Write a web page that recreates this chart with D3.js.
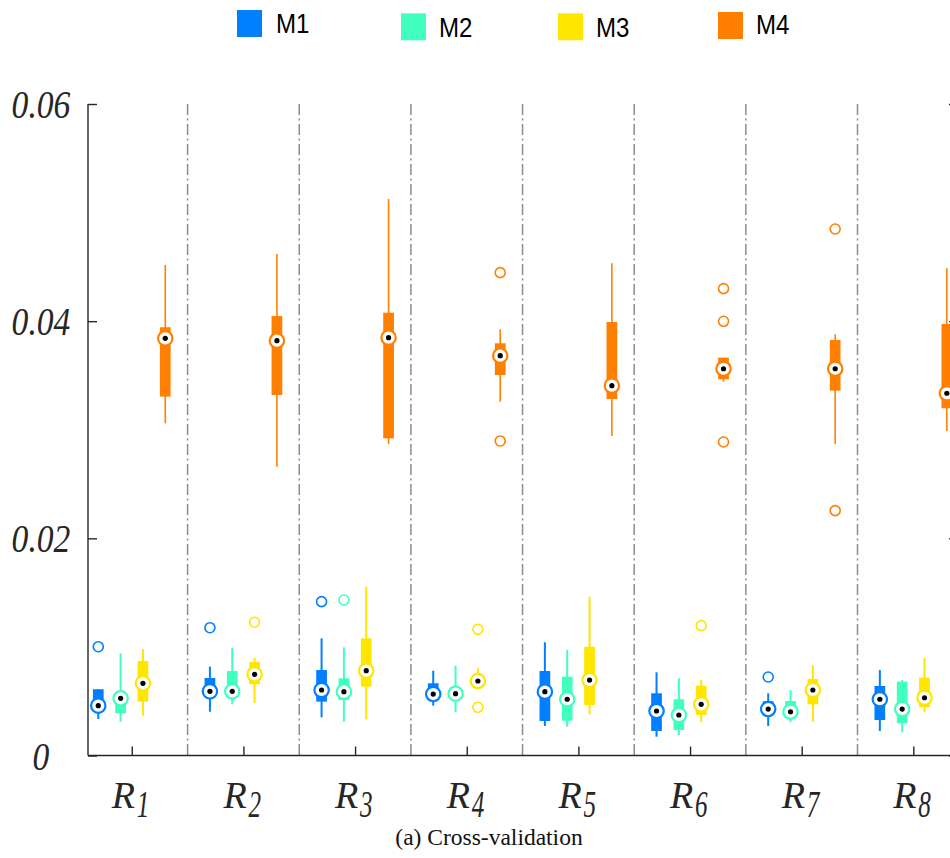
<!DOCTYPE html>
<html>
<head>
<meta charset="utf-8">
<script src="https://cdn.jsdelivr.net/npm/d3@7"></script>
<style>
  html, body { margin: 0; padding: 0; background: #fff; }
  svg { display: block; }
</style>
</head>
<body>
<svg id="chart" width="950" height="858"></svg>
<script>
// ---------- DATA ----------
const categories = ["1", "2", "3", "4", "5", "6", "7", "8"]; // subscripts of R
const seriesNames = ["M1", "M2", "M3", "M4"];
const seriesColors = ["#0080FF", "#40FFBF", "#FFE600", "#FF8000"];
const yTicks = [0, 0.02, 0.04, 0.06];
const yTickLabels = ["0", "0.02", "0.04", "0.06"];

// [whiskerLow, q1, median, q3, whiskerHigh] for R1..R8
const m1Stats = [
  [0.00336, 0.0043, 0.00459, 0.0061, 0.0061],
  [0.00403, 0.0055, 0.00591, 0.00714, 0.00818],
  [0.00352, 0.00496, 0.00603, 0.00787, 0.01079],
  [0.00459, 0.0052, 0.00566, 0.00665, 0.00781],
  [0.00272, 0.00318, 0.00588, 0.00778, 0.01043],
  [0.00173, 0.00226, 0.0041, 0.00573, 0.00766],
  [0.00272, 0.0038, 0.00428, 0.0050, 0.00573],
  [0.00226, 0.00327, 0.00518, 0.0064, 0.00787]
];
const m1Outliers = [[0.01002], [0.01177], [0.01417], [], [], [], [0.00723], []];

const m2Stats = [
  [0.00311, 0.00389, 0.00527, 0.0058, 0.00941],
  [0.00471, 0.0055, 0.00591, 0.00778, 0.00993],
  [0.00311, 0.00511, 0.00588, 0.00711, 0.00996],
  [0.00398, 0.0052, 0.00569, 0.0062, 0.00827],
  [0.00265, 0.0032, 0.00518, 0.00726, 0.00972],
  [0.00189, 0.00235, 0.00373, 0.00518, 0.00711],
  [0.00306, 0.0035, 0.00403, 0.00502, 0.00603],
  [0.00214, 0.00297, 0.00428, 0.0068, 0.00695]
];
const m2Outliers = [[], [], [0.01432], [], [], [], [], []];

const m3Stats = [
  [0.00367, 0.00496, 0.00665, 0.0087, 0.00981],
  [0.00486, 0.00656, 0.00748, 0.00861, 0.0090],
  [0.00333, 0.00634, 0.00781, 0.01079, 0.01555],
  [0.0061, 0.0064, 0.00686, 0.0074, 0.00803],
  [0.00379, 0.00465, 0.00695, 0.01002, 0.01463],
  [0.00306, 0.00373, 0.00471, 0.00643, 0.00695],
  [0.00311, 0.00471, 0.00603, 0.00705, 0.00831],
  [0.00398, 0.00444, 0.00532, 0.00717, 0.0090]
];
const m3Outliers = [[], [0.01227], [], [0.01162, 0.00444], [], [0.01196], [], []];

const m4Stats = [
  [0.0306, 0.03305, 0.03842, 0.03944, 0.04517],
  [0.0266, 0.0332, 0.0382, 0.04048, 0.04619],
  [0.02869, 0.02921, 0.03848, 0.04078, 0.05125],
  [0.03258, 0.03504, 0.03682, 0.03796, 0.03925],
  [0.02943, 0.03283, 0.03406, 0.03992, 0.04533],
  [0.03443, 0.03465, 0.03562, 0.03664, 0.03664],
  [0.02869, 0.0336, 0.03562, 0.03827, 0.03879],
  [0.02989, 0.03198, 0.03336, 0.03974, 0.04487]
];
const m4Outliers = [[], [], [], [0.04447, 0.02897], [], [0.0430, 0.03999, 0.02887], [0.04849, 0.02255], []];

const allStats = [m1Stats, m2Stats, m3Stats, m4Stats];
const allOutliers = [m1Outliers, m2Outliers, m3Outliers, m4Outliers];
const seriesOffsets = [-0.3, -0.1, 0.1, 0.3];

(function () {
// ---------- LAYOUT ----------
const svg = d3.select("#chart");
const pL = 88, pR = 958, pT = 104, pB = 755.5;
const x = d3.scaleLinear().domain([0.608, 8.4]).range([pL, pR]);
const y = d3.scaleLinear().domain([0, 0.06]).range([pB, pT]);
const boxW = x(0.096) - x(0);

// dividers
const dividers = d3.range(1, categories.length).map(d => d + 0.5);
svg.append("g").selectAll("line").data(dividers).join("line")
  .attr("x1", d => x(d)).attr("x2", d => x(d))
  .attr("y1", pT).attr("y2", pB)
  .attr("stroke", "#8c8c8c").attr("stroke-width", 1.5)
  .attr("stroke-dasharray", "11,3.5,2,3.5");

// axes
const axisColor = "#262626";
const gx = svg.append("g").attr("transform", `translate(0,${pB})`)
  .call(d3.axisBottom(x).tickValues(d3.range(1, 9)).tickSize(-9).tickFormat(""));
const gl = svg.append("g").attr("transform", `translate(${pL},0)`)
  .call(d3.axisLeft(y).tickValues(yTicks).tickSize(-9).tickFormat(""));
const gr = svg.append("g").attr("transform", `translate(${pR},0)`)
  .call(d3.axisRight(y).tickValues(yTicks).tickSize(-9).tickFormat(""));
[gx, gl, gr].forEach(g => {
  g.select(".domain").attr("stroke", axisColor).attr("stroke-width", 1.4);
  g.selectAll(".tick line").attr("stroke", axisColor).attr("stroke-width", 1.4);
});
gl.select(".domain").attr("d", `M0,${pT}V${pB}`);
gr.select(".domain").attr("d", `M0,${pT}V${pB}`);
gx.select(".domain").attr("d", `M${pL},0H${pR}`);

// y tick labels
svg.append("g").selectAll("text").data(yTicks).join("text")
  .attr("transform", d => `translate(41,${y(d) + 14}) scale(0.84,1)`)
  .attr("text-anchor", "middle")
  .attr("font-family", "'Liberation Serif', 'Times New Roman', serif")
  .attr("font-style", "italic")
  .attr("font-size", 40)
  .attr("fill", "#262626")
  .text((d, i) => yTickLabels[i]);

// x labels R_i
const xl = svg.append("g");
categories.forEach((c, i) => {
  const cx = x(i + 1);
  xl.append("text")
    .attr("x", cx - 20).attr("y", 808)
    .attr("font-family", "'Liberation Serif', 'Times New Roman', serif")
    .attr("font-style", "italic").attr("font-size", 38)
    .attr("fill", "#262626").text("R");
  xl.append("text")
    .attr("transform", `translate(${cx + 5},817) scale(0.68,1)`)
    .attr("font-family", "'Liberation Serif', 'Times New Roman', serif")
    .attr("font-style", "italic").attr("font-size", 37)
    .attr("fill", "#262626").text(c);
});

// caption
svg.append("text")
  .attr("x", 489).attr("y", 845)
  .attr("text-anchor", "middle")
  .attr("font-family", "'Liberation Serif', 'Times New Roman', serif")
  .attr("font-size", 23.5).attr("fill", "#111")
  .text("(a) Cross-validation");

// boxes
allStats.forEach((stats, s) => {
  const col = seriesColors[s];
  const g = svg.append("g");
  const px = i => x(i + 1 + seriesOffsets[s]);
  g.selectAll("line.wh").data(stats).join("line").attr("class", "wh")
    .attr("x1", (d, i) => px(i)).attr("x2", (d, i) => px(i))
    .attr("y1", d => y(d[0])).attr("y2", d => y(d[4]))
    .attr("stroke", col).attr("stroke-width", s === 3 ? 1.6 : 2);
  g.selectAll("rect").data(stats).join("rect")
    .attr("x", (d, i) => px(i) - boxW / 2).attr("width", boxW)
    .attr("y", d => y(d[3])).attr("height", d => y(d[1]) - y(d[3]))
    .attr("fill", col);
  const outs = [];
  allOutliers[s].forEach((arr, i) => arr.forEach(v => outs.push({ i, v })));
  g.selectAll("circle.out").data(outs).join("circle").attr("class", "out")
    .attr("cx", d => px(d.i)).attr("cy", d => y(d.v)).attr("r", 5)
    .attr("fill", "none").attr("stroke", col).attr("stroke-width", 1.6);
  g.selectAll("circle.med").data(stats).join("circle").attr("class", "med")
    .attr("cx", (d, i) => px(i)).attr("cy", d => y(d[2])).attr("r", 7.2)
    .attr("fill", "#fff").attr("stroke", col).attr("stroke-width", 2.2);
  g.selectAll("circle.dot").data(stats).join("circle").attr("class", "dot")
    .attr("cx", (d, i) => px(i)).attr("cy", d => y(d[2])).attr("r", 2.6)
    .attr("fill", "#000");
});

// legend
const legendSq = [[237, 10], [401, 13.3], [558, 13.3], [718, 12]];
const legendTx = [[276, 32.7], [439, 36.7], [596, 36.7], [756, 34]];
const lg = svg.append("g");
seriesNames.forEach((name, i) => {
  lg.append("rect")
    .attr("x", legendSq[i][0]).attr("y", legendSq[i][1])
    .attr("width", 25).attr("height", 27)
    .attr("fill", seriesColors[i]);
  lg.append("text")
    .attr("transform", `translate(${legendTx[i][0]},${legendTx[i][1]}) scale(0.86,1)`)
    .attr("font-family", "'Liberation Sans', Arial, sans-serif")
    .attr("font-size", 28).attr("fill", "#000")
    .text(name);
});
})();
</script>
</body>
</html>
